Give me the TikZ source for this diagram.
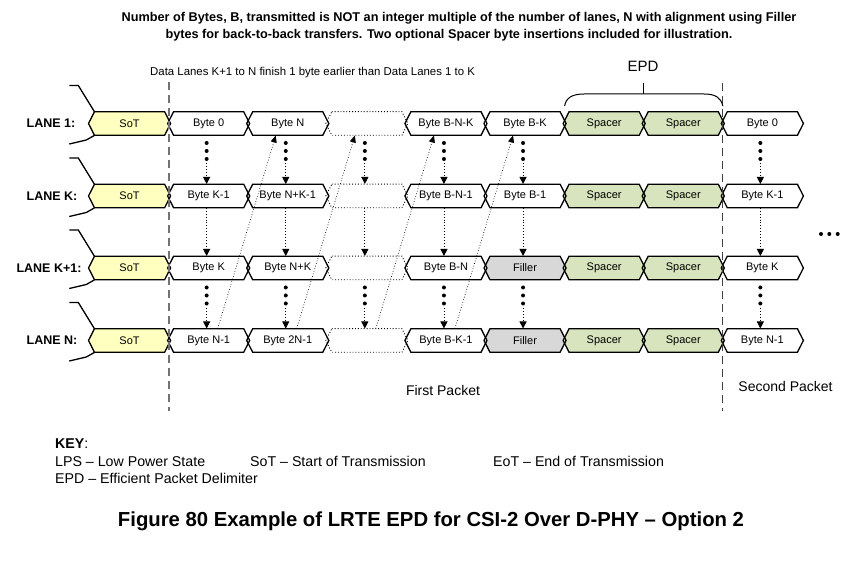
\documentclass[tikz,border=0pt]{standalone}
\usepackage{fontspec}
\setmainfont{Liberation Sans}
\usetikzlibrary{arrows.meta,backgrounds}

\definecolor{sotfill}{RGB}{255,255,192}
\definecolor{spacerfill}{RGB}{215,228,189}
\definecolor{fillerfill}{RGB}{216,216,216}

\newcommand{\fsz}[1]{\fontsize{#1}{#1}\selectfont}
% hexagon outline of one lane cell, centred at (#1,#2)
\newcommand{\hexat}[2]{(#1,#2) ++(-35.05,-11.8) -- ++(70.1,0) -- ++(6,11.8)
  -- ++(-6,11.8) -- ++(-70.1,0) -- ++(-6,-11.8) -- cycle}
% cell: name, column, lane y, look, label
\newcommand{\lanecell}[5]{%
  \begin{pgfonlayer}{background}
    \path[#4, draw=none] \hexat{129.55+79.1*#2}{#3};
  \end{pgfonlayer}
  \path[#4, fill=none] \hexat{129.55+79.1*#2}{#3};
  \node[celltext] (#1) at (129.55+79.1*#2,#3) {#5};}

\begin{document}
\begin{tikzpicture}[
    x=1pt, y=-1pt,
    celltext/.style={minimum width=70.1pt, minimum height=23.6pt, inner sep=0pt, font=\fsz{11}},
    byte/.style={draw, line width=1.3pt, fill=white},
    sot/.style={byte, fill=sotfill},
    spacer/.style={byte, fill=spacerfill},
    filler/.style={byte, fill=fillerfill},
    blank/.style={draw, dotted, line width=0.9pt, fill=white},
    lanelabel/.style={font=\bfseries\fsz{12.5}},
    laneline/.style={line width=1.3pt},
    sepline/.style={line width=1.3pt, dash pattern=on 8pt off 5pt},
    varrow/.style={dotted, line width=0.9pt, -{Triangle[length=7pt,width=7pt]}},
    darrow/.style={dotted, line width=0.7pt, -{Triangle[length=7pt,width=6pt]}},
    keytext/.style={anchor=base west, inner sep=0pt, font=\fsz{14.2}}
]
    \useasboundingbox (0,0) rectangle (863,561);

    % heading
    \node[font=\bfseries\fsz{12.7}] (head1) at (459,18) {Number of Bytes, B, transmitted is NOT an integer multiple of the number of lanes, N with alignment using Filler};
    \node[font=\bfseries\fsz{12.7}] (head2) at (449,35) {bytes for back-to-back transfers. Two optional Spacer byte insertions included for illustration.};
    \node[anchor=west, inner sep=0pt, font=\fsz{11.4}] (early) at (150,73) {Data Lanes K+1 to N finish 1 byte earlier than Data Lanes 1 to K};
    \node[font=\fsz{15}] (epd) at (643,66) {EPD};

    % lanes
    \foreach \c/\s/\t in {0/sot/SoT,1/byte/Byte 0,2/byte/Byte N,3/blank/,4/byte/Byte B-N-K,5/byte/Byte B-K,6/spacer/Spacer,7/spacer/Spacer,8/byte/Byte 0}
        \lanecell{l1-\c}{\c}{123.5}{\s}{\t};
    \foreach \c/\s/\t in {0/sot/SoT,1/byte/Byte K-1,2/byte/Byte N+K-1,3/blank/,4/byte/Byte B-N-1,5/byte/Byte B-1,6/spacer/Spacer,7/spacer/Spacer,8/byte/Byte K-1}
        \lanecell{lk-\c}{\c}{196}{\s}{\t};
    \foreach \c/\s/\t in {0/sot/SoT,1/byte/Byte K,2/byte/Byte N+K,3/blank/,4/byte/Byte B-N,5/filler/Filler,6/spacer/Spacer,7/spacer/Spacer,8/byte/Byte K}
        \lanecell{lkp-\c}{\c}{268}{\s}{\t};
    \foreach \c/\s/\t in {0/sot/SoT,1/byte/Byte N-1,2/byte/Byte 2N-1,3/blank/,4/byte/Byte B-K-1,5/filler/Filler,6/spacer/Spacer,7/spacer/Spacer,8/byte/Byte N-1}
        \lanecell{ln-\c}{\c}{340.5}{\s}{\t};

    \node[lanelabel] (lab1) at (51,123.5) {LANE 1:};
    \node[lanelabel] (labk) at (52,196) {LANE K:};
    \node[lanelabel] (labkp) at (49,268) {LANE K+1:};
    \node[lanelabel] (labn) at (52,340.5) {LANE N:};

    \foreach \r in {l1,lk,lkp,ln}{
        \draw[laneline] (\r-0.north west) -- ++(-16,-26) -- ++(-9,0);
        \draw[laneline] (\r-0.south west) -- ++(-8,4.5) -- ++(-17,4);
    }

    % packet borders and EPD brace
    \draw[sepline, black!55] (169,82) -- (169,411);
    \draw[sepline, black!75] (722.8,83) -- (722.8,411);
    \draw[line width=1pt] (564.6,106) .. controls (566,98) and (572,94) .. (584,94) -- (704,94)
        .. controls (716,94) and (721,98) .. (722.8,106);
    \draw[line width=1pt] (643,94) -- (643,83);

    % byte order down the lanes
    \foreach \c in {1,2,3,4,5,8}{
        \foreach \dy in {7.5,15.5,23.5}{
            \fill ([xshift=-2pt,yshift=-\dy pt]l1-\c.south) circle (2pt);
            \fill ([xshift=-2pt,yshift=-\dy pt]lkp-\c.south) circle (2pt);
        }
        \draw[varrow] ([xshift=-2pt,yshift=-28pt]l1-\c.south) -- ([xshift=-2pt]lk-\c.north);
        \draw[varrow] ([xshift=-2pt]lk-\c.south) -- ([xshift=-2pt]lkp-\c.north);
        \draw[varrow] ([xshift=-2pt,yshift=-28pt]lkp-\c.south) -- ([xshift=-2pt]ln-\c.north);
    }
    \foreach \c/\d in {1/2,2/3,3/4,4/5}
        \draw[darrow] ([xshift=9pt]ln-\c.north) -- ([xshift=-12pt]l1-\d.south);
    \foreach \x in {821,829.3,837.7}
        \fill (\x,234) circle (2pt);

    \node[font=\fsz{14}] (first) at (443,390) {First Packet};
    \node[font=\fsz{14}] (second) at (785.5,386) {Second Packet};

    % key
    \node[keytext] (key) at (55,449) {\textbf{KEY}:};
    \node[keytext] (keylps) at (55,467) {LPS – Low Power State};
    \node[keytext] (keysot) at (250,467) {SoT – Start of Transmission};
    \node[keytext] (keyeot) at (493,467) {EoT – End of Transmission};
    \node[keytext] (keyepd) at (55,484) {EPD – Efficient Packet Delimiter};

    \node[font=\bfseries\fsz{20.3}] (title) at (431,521) {Figure 80 Example of LRTE EPD for CSI-2 Over D-PHY – Option 2};
\end{tikzpicture}
\end{document}
